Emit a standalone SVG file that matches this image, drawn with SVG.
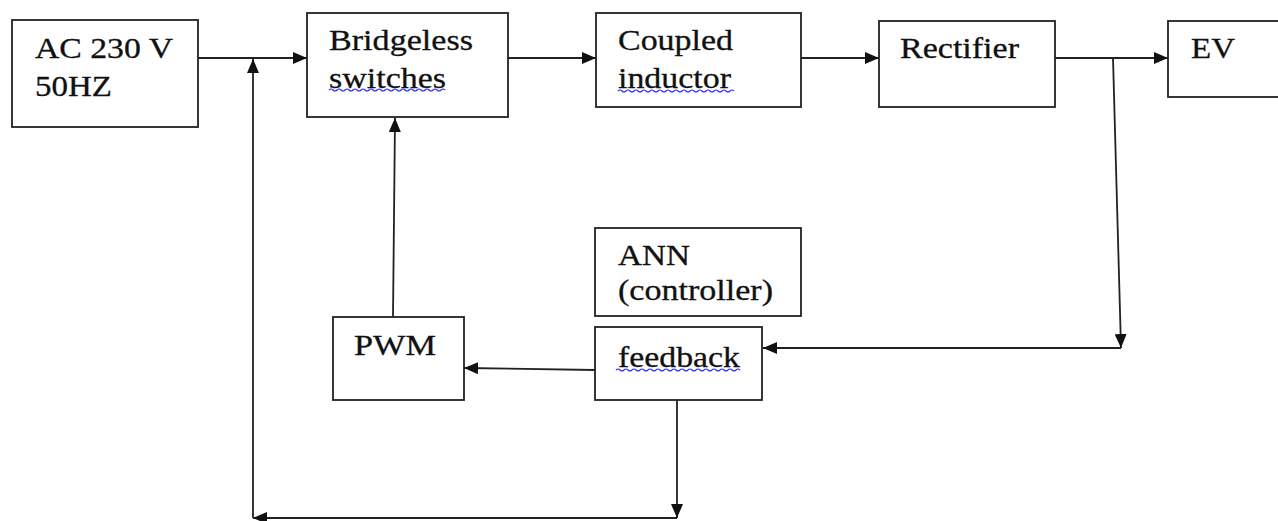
<svg xmlns="http://www.w3.org/2000/svg" width="1278" height="521" viewBox="0 0 1278 521">
<defs>
<style>
.box{fill:#fff;stroke:#222;stroke-width:1.8}
.t{font-family:'Liberation Serif','DejaVu Serif',serif;font-size:30px;fill:#111;stroke:#111;stroke-width:0.3}
.ln{fill:none;stroke:#222;stroke-width:1.8}
.sq{fill:none;stroke:#2a2aff;stroke-width:1.1}
</style>
<marker id="ah" viewBox="0 0 14 12" refX="14" refY="6" markerWidth="14" markerHeight="12" markerUnits="userSpaceOnUse" orient="auto">
<path d="M0,0 L14,6 L0,12 Z" fill="#111"/>
</marker>
</defs>
<rect width="1278" height="521" fill="#fff"/>
<g id="connectors">
<line class="ln" x1="198" y1="58" x2="307" y2="58" marker-end="url(#ah)"/>
<line class="ln" x1="508" y1="58" x2="596" y2="58" marker-end="url(#ah)"/>
<line class="ln" x1="801" y1="58" x2="879" y2="58" marker-end="url(#ah)"/>
<line class="ln" x1="1055" y1="58" x2="1168" y2="58" marker-end="url(#ah)"/>
<line class="ln" x1="1113" y1="58" x2="1121" y2="348" marker-end="url(#ah)"/>
<line class="ln" x1="1121" y1="348" x2="763" y2="348" marker-end="url(#ah)"/>
<line class="ln" x1="595" y1="370" x2="464" y2="368" marker-end="url(#ah)"/>
<line class="ln" x1="393" y1="317" x2="395" y2="118" marker-end="url(#ah)"/>
<line class="ln" x1="677" y1="400" x2="677" y2="518" marker-end="url(#ah)"/>
<line class="ln" x1="677" y1="518" x2="253" y2="518" marker-end="url(#ah)"/>
<line class="ln" x1="253" y1="518" x2="253" y2="59" marker-end="url(#ah)"/>
</g>
<g id="ac">
<rect class="box" x="12" y="20" width="186" height="107"/>
<text class="t" x="35" y="58" textLength="138" lengthAdjust="spacingAndGlyphs">AC 230 V</text>
<text class="t" x="35" y="96" textLength="77" lengthAdjust="spacingAndGlyphs">50HZ</text>
</g>
<g id="bridgeless">
<rect class="box" x="307" y="13" width="201" height="104"/>
<text class="t" x="329" y="50" textLength="144" lengthAdjust="spacingAndGlyphs">Bridgeless</text>
<text class="t" x="329" y="88" textLength="117" lengthAdjust="spacingAndGlyphs">switches</text>
<path class="sq" d="M329,90 q2,-2 4,0 t4,0 t4,0 t4,0 t4,0 t4,0 t4,0 t4,0 t4,0 t4,0 t4,0 t4,0 t4,0 t4,0 t4,0 t4,0 t4,0 t4,0 t4,0 t4,0 t4,0 t4,0 t4,0 t4,0 t4,0 t4,0 t4,0 t4,0 t4,0"/>
</g>
<g id="coupled">
<rect class="box" x="596" y="13" width="205" height="94"/>
<text class="t" x="618" y="50" textLength="115" lengthAdjust="spacingAndGlyphs">Coupled</text>
<text class="t" x="618" y="88" textLength="113" lengthAdjust="spacingAndGlyphs">inductor</text>
<path class="sq" d="M618,91 q2,-2 4,0 t4,0 t4,0 t4,0 t4,0 t4,0 t4,0 t4,0 t4,0 t4,0 t4,0 t4,0 t4,0 t4,0 t4,0 t4,0 t4,0 t4,0 t4,0 t4,0 t4,0 t4,0 t4,0 t4,0 t4,0 t4,0 t4,0 t4,0 t4,0"/>
</g>
<g id="rectifier">
<rect class="box" x="879" y="21" width="176" height="86"/>
<text class="t" x="900" y="58" textLength="119" lengthAdjust="spacingAndGlyphs">Rectifier</text>
</g>
<g id="ev">
<rect class="box" x="1168" y="21" width="120" height="76"/>
<text class="t" x="1191" y="58" textLength="44" lengthAdjust="spacingAndGlyphs">EV</text>
</g>
<g id="ann">
<rect class="box" x="595" y="228" width="206" height="88"/>
<text class="t" x="618" y="265" textLength="72" lengthAdjust="spacingAndGlyphs">ANN</text>
<text class="t" x="618" y="300" textLength="155" lengthAdjust="spacingAndGlyphs">(controller)</text>
</g>
<g id="feedback">
<rect class="box" x="595" y="327" width="167" height="73"/>
<text class="t" x="618" y="367" textLength="122" lengthAdjust="spacingAndGlyphs">feedback</text>
<path class="sq" d="M616,370 q2,-2 4,0 t4,0 t4,0 t4,0 t4,0 t4,0 t4,0 t4,0 t4,0 t4,0 t4,0 t4,0 t4,0 t4,0 t4,0 t4,0 t4,0 t4,0 t4,0 t4,0 t4,0 t4,0 t4,0 t4,0 t4,0 t4,0 t4,0 t4,0 t4,0 t4,0 t4,0"/>
</g>
<g id="pwm">
<rect class="box" x="333" y="317" width="131" height="83"/>
<text class="t" x="354" y="355" textLength="82" lengthAdjust="spacingAndGlyphs">PWM</text>
</g>
</svg>
